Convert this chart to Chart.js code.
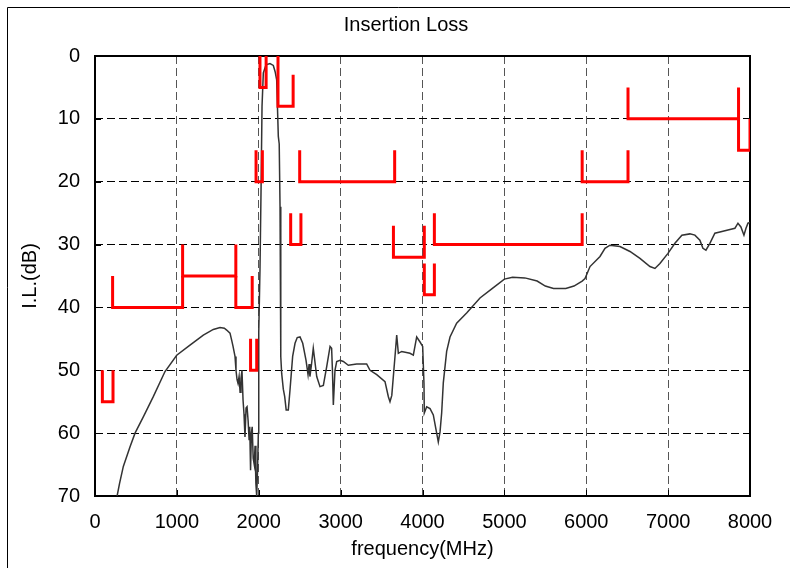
<!DOCTYPE html>
<html><head><meta charset="utf-8">
<script src="https://cdn.jsdelivr.net/npm/chart.js@4/dist/chart.umd.min.js"></script>
<style>html,body{margin:0;padding:0;background:#fff}#wrap{width:790px;height:568px;position:relative}</style>
</head><body><div id="wrap"><canvas id="c" width="790" height="568"></canvas></div>
<script>
// Measured insertion loss curve
const freqMHz = [270,300,346,427,489,590,712,855,998,1160,1323,1445,1527,1580,1608,1649,1669,1686,1710,1722,1735,1747,1760,1772,1783,1795,1808,1820,1832,1845,1857,1870,1882,1890,1900,1910,1920,1932,1945,1955,1965,1975,1985,1995,2000,2015,2028,2040,2056,2089,2137,2178,2200,2219,2239,2250,2260,2268,2270,2280,2300,2317,2335,2361,2382,2414,2443,2470,2504,2537,2577,2602,2615,2625,2645,2666,2680,2708,2748,2789,2830,2871,2890,2900,2911,2931,2952,2993,3033,3094,3196,3318,3359,3441,3542,3583,3603,3625,3664,3685,3705,3746,3847,3888,3929,3970,4002,4018,4022,4051,4092,4132,4173,4193,4214,4234,4254,4295,4336,4417,4539,4702,4850,5000,5100,5250,5400,5500,5600,5750,5850,5950,5985,6046,6168,6229,6290,6412,6534,6656,6778,6839,6900,6998,7083,7168,7266,7327,7388,7425,7462,7510,7571,7632,7755,7816,7853,7889,7926,7951,7975,8000];
const insertionLoss = [70,68,65.3,62.2,60,57.4,54.2,50.2,47.6,46,44.4,43.5,43.2,43.3,43.6,44.1,45.2,46.2,47.8,50,51.5,52.1,51,53.5,51.3,50,54.7,57,60.6,56,55.8,58,61,59,65.9,60,59,64,65,62,68,70,66,60,44,34,21.3,8,2.7,1.4,1.2,1.5,2.5,3.8,12.8,14,24,34.5,47.8,50.5,53,54.2,56.3,56.3,53.1,47.8,45.7,44.8,44.7,45.7,48.4,50.7,49,51,49,46.5,48,51,52.6,52.4,49.4,46.2,46.5,50,55.5,50,48.6,48.4,48.6,49.2,49,49,50,50.7,51.8,54.2,55,54,47.8,44.4,47.3,47,47.3,47.6,44.7,45.5,46.2,52.1,56.8,55.8,56.1,57.1,60,61.4,59.8,56.8,52,47,44.7,42.5,40.9,38.5,37,35.5,35.2,35.3,35.8,36.6,37,37,36.6,35.8,35.4,33.5,31.9,30.6,30.1,30.3,31.1,32.2,33.5,33.8,33,31.4,29.8,28.5,28.3,28.5,29.3,30.6,30.9,29.8,28.2,28,27.6,27.4,26.6,27.2,28.5,27.4,26.6,26.5];

// Specification mask bands (U shapes)
const maskFrom  = [90, 215, 1070, 1720, 1900, 1967, 2015, 2235, 2390, 2500, 3645, 4022, 4145, 5950, 6510, 7860];
const maskTo    = [220,1070,1720, 1920, 1975, 2044, 2090, 2420, 2515, 3660, 4022, 4145, 5950, 6510, 7860, 8000];
const maskLevel = [55, 40,  35,   40,   50,   20,   5,    8,    30,   20,   32,   38,   30,   20,   10,   15];
const maskTopL  = [50, 35,  30,   35,   45,   15,   0,    0,    25,   15,   27,   33,   25,   15,   5,    10];
const maskTopR  = [50, 35,  30,   35,   45,   15,   0,    3,    25,   15,   27,   33,   25,   15,   5,    10];

const xTicks = [0,1000,2000,3000,4000,5000,6000,7000,8000];
const yTicks = [0,10,20,30,40,50,60,70];
const chartTitle = 'Insertion Loss';

const FONT = 'Liberation Sans, Arial, sans-serif';
const font = {family: FONT, size: 20, weight: 'normal'};

const datasets = [];
for (let i = 0; i < maskFrom.length; i++) {
  datasets.push({
    data: [
      {x: maskFrom[i], y: maskTopL[i]},
      {x: maskFrom[i], y: maskLevel[i]},
      {x: maskTo[i], y: maskLevel[i]},
      {x: maskTo[i], y: maskTopR[i]}
    ],
    borderColor: '#ff0000', borderWidth: 3, pointRadius: 0, tension: 0, fill: false,
    borderJoinStyle: 'miter', borderCapStyle: 'butt'
  });
}
datasets.push({
  data: freqMHz.map((f, i) => ({x: f, y: insertionLoss[i]})),
  borderColor: '#333333', borderWidth: 1.5, pointRadius: 0, tension: 0, fill: false
});

const framePlugin = {
  id: 'frame',
  beforeDatasetsDraw(chart) {
    const {ctx, chartArea: a, scales} = chart;
    ctx.save();
    ctx.strokeStyle = '#000';
    ctx.lineWidth = 1;
    ctx.beginPath();
    xTicks.forEach(v => { const p = Math.round(scales.x.getPixelForValue(v)) + 0.5; ctx.moveTo(p, a.bottom); ctx.lineTo(p, a.bottom - 6); });
    yTicks.forEach(v => { const p = Math.round(scales.y.getPixelForValue(v)) + 0.5; ctx.moveTo(a.left, p); ctx.lineTo(a.left + 6, p); });
    ctx.stroke();
    ctx.lineWidth = 2;
    ctx.strokeRect(a.left, a.top, a.right - a.left, a.bottom - a.top);
    ctx.lineWidth = 1;
    ctx.beginPath();
    ctx.moveTo(7.5, 568); ctx.lineTo(7.5, 7.5); ctx.lineTo(790, 7.5);
    ctx.stroke();
    ctx.fillStyle = '#000';
    ctx.font = '20px ' + FONT;
    ctx.textAlign = 'center';
    ctx.textBaseline = 'middle';
    ctx.fillText(chartTitle, 406, 25);
    ctx.restore();
  }
};

new Chart(document.getElementById('c'), {
  type: 'line',
  data: {datasets},
  plugins: [framePlugin],
  options: {
    responsive: false, animation: false, devicePixelRatio: 1,
    layout: {padding: {top: 56, left: 0, right: 40, bottom: 0}},
    plugins: {
      legend: {display: false}, tooltip: {enabled: false}, title: {display: false}
    },
    scales: {
      x: {
        type: 'linear', min: 0, max: 8000,
        afterBuildTicks: s => { s.ticks = xTicks.map(v => ({value: v})); },
        afterFit: s => { s.height = 72; },
        grid: {color: '#555', lineWidth: 1, drawTicks: false},
        border: {display: false, dash: [8, 4]},
        ticks: {padding: 14, color: '#000', font, maxRotation: 0, callback: v => String(v)},
        title: {display: true, text: 'frequency(MHz)', color: '#000', font, padding: {top: 0, bottom: 7}}
      },
      y: {
        type: 'linear', reverse: true, min: 0, max: 70,
        afterBuildTicks: s => { s.ticks = yTicks.map(v => ({value: v})); },
        afterFit: s => { s.width = 95; },
        grid: {color: '#000', lineWidth: 1, drawTicks: false},
        border: {display: false, dash: [8, 4]},
        ticks: {padding: 15, color: '#000', font, callback: v => String(v)},
        title: {display: true, text: 'I.L.(dB)', color: '#000', font, padding: {top: 18, bottom: 0}}
      }
    }
  }
});
</script>
</body></html>
